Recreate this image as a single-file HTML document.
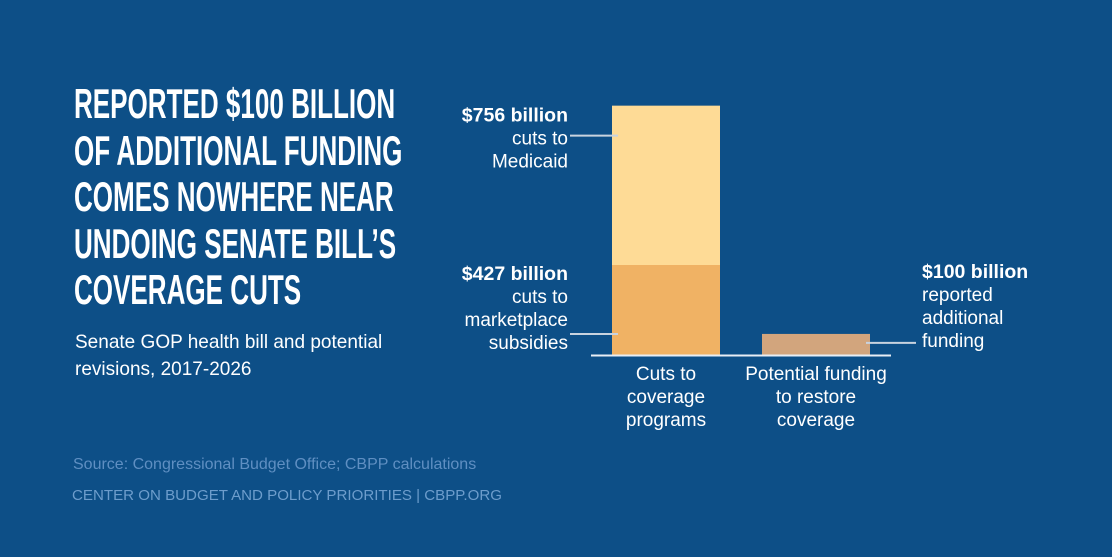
<!DOCTYPE html>
<html><head><meta charset="utf-8">
<style>
html,body{margin:0;padding:0}
body{width:1112px;height:557px;background:#0d4f87;overflow:hidden;position:relative;font-family:"Liberation Sans",sans-serif}
#title{position:absolute;left:74px;top:81px;margin:0;color:#fff;font-family:"Liberation Sans",sans-serif;font-weight:bold;font-size:42px;line-height:46.5px;text-transform:uppercase;white-space:nowrap;transform:scaleX(0.62);transform-origin:0 0}
#sub{position:absolute;left:75px;top:329px;color:#fff;font-size:19.5px;line-height:27px;white-space:nowrap;transform:scaleX(0.975);transform-origin:0 0}
#source{position:absolute;left:73px;top:456px;color:#5f8fc2;font-size:16px;white-space:nowrap}
#footer{position:absolute;left:72px;top:487px;color:#6d9dcc;font-size:15.1px;white-space:nowrap}
svg{position:absolute;left:0;top:0}
svg text{font-family:"Liberation Sans",sans-serif;fill:#fff}
</style></head><body>
<h1 id="title">Reported $100 billion<br>of additional funding<br>comes nowhere near<br>undoing Senate bill’s<br>coverage cuts</h1>
<div id="sub">Senate GOP health bill and potential<br>revisions, 2017-2026</div>
<div id="source">Source: Congressional Budget Office; CBPP calculations</div>
<div id="footer">CENTER ON BUDGET AND POLICY PRIORITIES | CBPP.ORG</div>
<svg id="chart" width="1112" height="557"></svg>
<script>
const categories = ["Cuts to coverage programs", "Potential funding to restore coverage"];
const marketplaceCuts = [427, 0];
const medicaidCuts = [756, 0];
const additionalFunding = [0, 100];
const catLabels = [["Cuts to","coverage","programs"],["Potential funding","to restore","coverage"]];

const NS = "http://www.w3.org/2000/svg";
const svg = document.getElementById("chart");
const baseY = 355, pxPer = 90/427;
const y = v => baseY - v*pxPer;
const xCenter = i => 666 + i*150;
const barW = 108;
function mk(tag, attrs){const e=document.createElementNS(NS,tag);for(const k in attrs)e.setAttribute(k,attrs[k]);svg.appendChild(e);return e;}

categories.forEach((c,i)=>{
  const x0 = xCenter(i)-barW/2;
  if(marketplaceCuts[i]>0){
    const r=mk("rect",{x:x0,y:y(marketplaceCuts[i]),width:barW,height:baseY-y(marketplaceCuts[i]),fill:"#f0b264"});
    
    
  }
  if(medicaidCuts[i]>0){
    const top=marketplaceCuts[i]+medicaidCuts[i];
    const r=mk("rect",{x:x0,y:y(top),width:barW,height:y(marketplaceCuts[i])-y(top),fill:"#fedb96"});
    
    
  }
  if(additionalFunding[i]>0){
    const r=mk("rect",{x:x0,y:y(additionalFunding[i]),width:barW,height:baseY-y(additionalFunding[i]),fill:"#d2a57d"});
    
    
  }
  catLabels[i].forEach((l,j)=>{
    const t=mk("text",{x:xCenter(i),y:380+j*23,"text-anchor":"middle","font-size":"19"});
    t.textContent=l;
    
    
  });
});
const axis=mk("line",{x1:591,x2:891,y1:baseY+0.5,y2:baseY+0.5,stroke:"#e8eef5","stroke-width":"2"});



function label(lines,x,y0,anchor,name){
  lines.forEach((l,j)=>{
    const t=mk("text",{x:x,y:y0+j*23,"text-anchor":anchor,"font-size":j===0?"19.5":"19","font-weight":j===0?"bold":"normal"});
    t.textContent=l;
    
    
  });
}
function leader(x1,x2,yy){
  const l=mk("line",{x1:x1,x2:x2,y1:yy,y2:yy,stroke:"#c8d3df","stroke-width":"2"});
  
  
}
const medTop = marketplaceCuts[0]+medicaidCuts[0];
label(["$"+medicaidCuts[0]+" billion","cuts to","Medicaid"],568,y(medTop)+16,"end","medicaid-label");
leader(570,618,y(medTop)+30);
label(["$"+marketplaceCuts[0]+" billion","cuts to","marketplace","subsidies"],568,y(marketplaceCuts[0])+15,"end","marketplace-label");
leader(570,618,baseY-21);
label(["$"+additionalFunding[1]+" billion","reported","additional","funding"],922,y(marketplaceCuts[0])+13,"start","funding-label");
leader(866,916,y(additionalFunding[1])+9);
</script>
</body></html>
